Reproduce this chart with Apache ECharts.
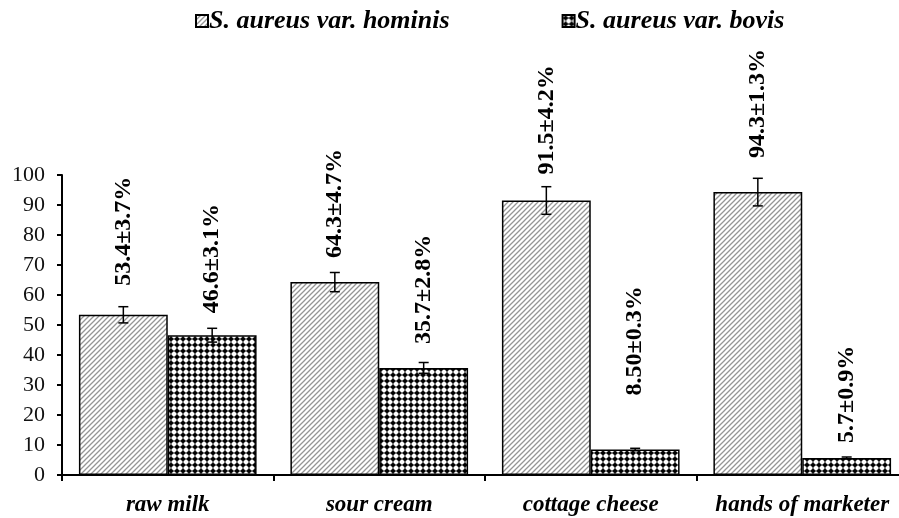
<!DOCTYPE html>
<html>
<head>
<meta charset="utf-8">
<script src="https://cdn.jsdelivr.net/npm/echarts@6/dist/echarts.min.js"></script>
<style>html,body{margin:0;padding:0;background:#fff;overflow:hidden;width:899px;height:518px}#c{width:912px;height:518px}</style>
</head>
<body>
<div id="c"></div>
<script>
const categories = ['raw milk', 'sour cream', 'cottage cheese', 'hands of marketer'];
const seriesNames = ['S. aureus var. hominis', 'S. aureus var. bovis'];
const hominisValues = [53.4, 64.3, 91.5, 94.3];
const bovisValues = [46.6, 35.7, 8.5, 5.7];
const hominisErrors = [2.7, 3.2, 4.6, 4.6];
const bovisErrors = [2.3, 1.8, 0.4, 0.3];
const hominisLabels = ['53.4±3.7%', '64.3±4.7%', '91.5±4.2%', '94.3±1.3%'];
const bovisLabels = ['46.6±3.1%', '35.7±2.8%', '8.50±0.3%', '5.7±0.9%'];
const hominisLabelGap = [29, 24, 26, 34];
const bovisLabelGap = [22, 24, 54, 15];
const yTicks = [0, 10, 20, 30, 40, 50, 60, 70, 80, 90, 100];

function makeHatch() {
  const c = document.createElement('canvas');
  c.width = 5; c.height = 5;
  const g = c.getContext('2d');
  g.fillStyle = '#ffffff'; g.fillRect(0, 0, 5, 5);
  g.strokeStyle = '#959595'; g.lineWidth = 1.3;
  g.beginPath();
  g.moveTo(0, 5); g.lineTo(5, 0);
  g.moveTo(-1, 1); g.lineTo(1, -1);
  g.moveTo(4, 6); g.lineTo(6, 4);
  g.stroke();
  return c;
}
function makeDots() {
  const c = document.createElement('canvas');
  c.width = 6; c.height = 6;
  const g = c.getContext('2d');
  g.fillStyle = '#ffffff'; g.fillRect(0, 0, 6, 6);
  g.fillStyle = '#222';
  g.fillRect(0, 2.4, 6, 1.2);
  g.fillRect(2.4, 0, 1.2, 6);
  g.fillStyle = '#000';
  g.beginPath(); g.arc(3, 3, 2.1, 0, Math.PI * 2); g.fill();
  return c;
}
const hatch = { image: makeHatch(), repeat: 'repeat' };
const dots = { image: makeDots(), repeat: 'repeat' };

const serif = '"Liberation Serif", "Times New Roman", serif';

function barData(vals, labels, gaps) {
  return vals.map((v, i) => ({
    value: v,
    label: { formatter: labels[i], distance: gaps[i] }
  }));
}

function errData(vals, errs) {
  return vals.map((v, i) => [i, v, errs[i]]);
}

function errRender(offsetSign) {
  return function (params, api) {
    const idx = api.value(0), v = api.value(1), e = api.value(2);
    const band = api.size([1, 0])[0];
    const dx = offsetSign * band * 0.21;
    const top = api.coord([idx, v + e]);
    const bot = api.coord([idx, v - e]);
    const x = top[0] + dx;
    const cap = 5;
    const st = { stroke: '#000', lineWidth: 1.5 };
    return {
      type: 'group',
      children: [
        { type: 'line', shape: { x1: x, y1: top[1], x2: x, y2: bot[1] }, style: st },
        { type: 'line', shape: { x1: x - cap, y1: top[1], x2: x + cap, y2: top[1] }, style: st },
        { type: 'line', shape: { x1: x - cap, y1: bot[1], x2: x + cap, y2: bot[1] }, style: st }
      ]
    };
  };
}

const labelStyle = {
  show: true, position: 'top', rotate: 90, align: 'left', verticalAlign: 'middle',
  fontFamily: serif, fontWeight: 'bold', fontSize: 24, color: '#000'
};

const chart = echarts.init(document.getElementById('c'));
chart.setOption({
  backgroundColor: '#fff',
  animation: false,
  legend: {
    data: seriesNames,
    left: 190, top: 3,
    itemWidth: 12, itemHeight: 12, itemGap: 112,
    icon: 'rect',
    textStyle: { fontFamily: serif, fontStyle: 'italic', fontWeight: 'bold', fontSize: 26, color: '#000', padding: [0, 0, 0, -4] }
  },
  grid: { left: 62, top: 175, width: 846, bottom: 43, containLabel: false },
  xAxis: {
    type: 'category', data: categories,
    axisLine: { lineStyle: { color: '#000', width: 2 } },
    axisTick: { show: true, interval: 0, length: 6, lineStyle: { color: '#000', width: 2 } },
    axisLabel: { interval: 0, fontFamily: serif, fontStyle: 'italic', fontWeight: 'bold', fontSize: 23, color: '#000', margin: 19 }
  },
  yAxis: {
    type: 'value', min: yTicks[0], max: yTicks[yTicks.length - 1], interval: 10,
    axisLine: { show: true, lineStyle: { color: '#000', width: 2 } },
    axisTick: { show: true, length: 5, lineStyle: { color: '#000', width: 2 } },
    splitLine: { show: false },
    axisLabel: { fontFamily: serif, fontSize: 22, color: '#111', margin: 17 }
  },
  series: [
    {
      name: seriesNames[0], type: 'bar', barGap: '0%', barCategoryGap: '16%',
      data: barData(hominisValues, hominisLabels, hominisLabelGap),
      itemStyle: { color: hatch, borderColor: '#000', borderWidth: 1.5 },
      label: labelStyle
    },
    {
      name: seriesNames[1], type: 'bar', barGap: '0%', barCategoryGap: '16%',
      data: barData(bovisValues, bovisLabels, bovisLabelGap),
      itemStyle: { color: dots, borderColor: '#000', borderWidth: 1.5 },
      label: labelStyle
    },
    {
      type: 'custom', renderItem: errRender(-1), data: errData(hominisValues, hominisErrors),
      encode: { x: 0, y: 1 }, z: 10, silent: true
    },
    {
      type: 'custom', renderItem: errRender(1), data: errData(bovisValues, bovisErrors),
      encode: { x: 0, y: 1 }, z: 10, silent: true
    }
  ]
});
</script>
</body>
</html>
